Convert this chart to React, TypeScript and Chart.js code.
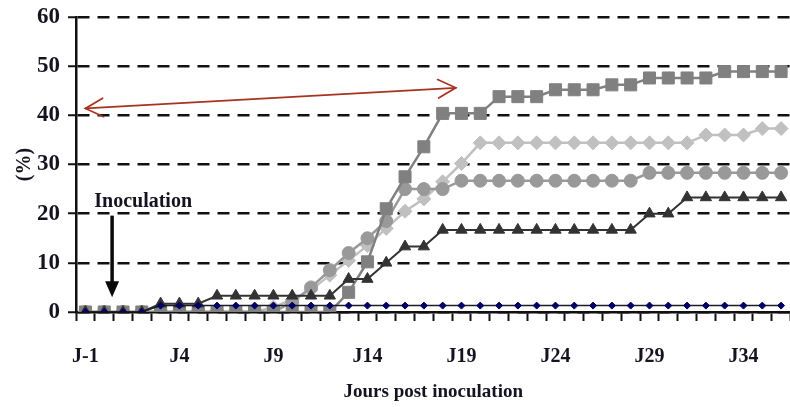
import React, { useEffect, useRef } from 'react';
import { Chart, registerables } from 'chart.js';

Chart.register(...registerables);

const categories = [
  'J-1', 'J0', 'J1', 'J2', 'J3', 'J4', 'J5', 'J6', 'J7', 'J8',
  'J9', 'J10', 'J11', 'J12', 'J13', 'J14', 'J15', 'J16', 'J17', 'J18',
  'J19', 'J20', 'J21', 'J22', 'J23', 'J24', 'J25', 'J26', 'J27', 'J28',
  'J29', 'J30', 'J31', 'J32', 'J33', 'J34', 'J35', 'J36',
];
const tickLabels = ['J-1', 'J4', 'J9', 'J14', 'J19', 'J24', 'J29', 'J34'];
const yTicks = [0, 10, 20, 30, 40, 50, 60];

const seriesNavy = [
  0, 0, 0, 0, 1.3, 1.3, 1.3, 1.3, 1.3, 1.3,
  1.3, 1.3, 1.3, 1.3, 1.3, 1.3, 1.3, 1.3, 1.3, 1.3,
  1.3, 1.3, 1.3, 1.3, 1.3, 1.3, 1.3, 1.3, 1.3, 1.3,
  1.3, 1.3, 1.3, 1.3, 1.3, 1.3, 1.3, 1.3,
];
const seriesTriangles = [
  0, 0, 0, 0, 1.7, 1.7, 1.7, 3.3, 3.3, 3.3,
  3.3, 3.3, 3.3, 3.3, 6.7, 6.7, 10, 13.3, 13.3, 16.7,
  16.7, 16.7, 16.7, 16.7, 16.7, 16.7, 16.7, 16.7, 16.7, 16.7,
  20, 20, 23.3, 23.3, 23.3, 23.3, 23.3, 23.3,
];
const seriesSquares = [
  0, 0, 0, 0, 0, 0, 0, 0, 0, 0,
  0, 0, 0, 0, 4, 10.2, 21, 27.5, 33.6, 40.4,
  40.4, 40.4, 43.8, 43.8, 43.8, 45.2, 45.2, 45.2, 46.2, 46.2,
  47.6, 47.6, 47.6, 47.6, 48.9, 48.9, 48.9, 48.9,
];
const seriesCircles = [
  0, 0, 0, 0, 0, 0, 0, 0, 0, 0,
  0, 2, 5, 8.5, 12, 15, 18.5, 25, 25, 25,
  26.7, 26.7, 26.7, 26.7, 26.7, 26.7, 26.7, 26.7, 26.7, 26.7,
  28.3, 28.3, 28.3, 28.3, 28.3, 28.3, 28.3, 28.3,
];
const seriesDiamonds = [
  0, 0, 0, 0, 0, 0, 0, 0, 0, 0,
  1, 2.5, 4.5, 7.5, 10.5, 13.5, 17, 20.5, 23, 26.5,
  30.2, 34.4, 34.4, 34.4, 34.4, 34.4, 34.4, 34.4, 34.4, 34.4,
  34.4, 34.4, 34.4, 36, 36, 36, 37.3, 37.3,
];

const xTitle = 'Jours post inoculation';
const yTitle = '(%)';
const inoculationText = 'Inoculation';
// annotation anchors in data units [category index, value]
const redArrowFrom = [0, 41.4];
const redArrowTo = [19.7, 45.6];
const inocArrowX = 1.42;
const inocArrowTop = 19.6;
const inocArrowTip = 3;
const inocTextAt = [3.07, 22.4];

const FONT = 'Liberation Serif';
const INK = '#141420';

const annotationPlugin = {
  id: 'annotations',
  afterDraw(chart: any) {
    const { ctx } = chart;
    const xs = chart.scales.x;
    const ys = chart.scales.y;
    const px = (i: number) => xs.getPixelForValue(i);
    const py = (v: number) => ys.getPixelForValue(v);
    ctx.save();
    // red double arrow
    const ax1 = px(redArrowFrom[0]);
    const ay1 = py(redArrowFrom[1]);
    const ax2 = px(redArrowTo[0]);
    const ay2 = py(redArrowTo[1]);
    ctx.strokeStyle = '#a8321f';
    ctx.lineWidth = 1.7;
    ctx.lineCap = 'round';
    ctx.beginPath();
    ctx.moveTo(ax1, ay1);
    ctx.lineTo(ax2, ay2);
    ctx.stroke();
    const head = (tx: number, ty: number, fx: number, fy: number) => {
      const ang = Math.atan2(ty - fy, tx - fx);
      const L = 20;
      const a = 0.48;
      ctx.beginPath();
      ctx.moveTo(tx - L * Math.cos(ang - a), ty - L * Math.sin(ang - a));
      ctx.lineTo(tx, ty);
      ctx.lineTo(tx - L * Math.cos(ang + a), ty - L * Math.sin(ang + a));
      ctx.stroke();
    };
    head(ax1, ay1, ax2, ay2);
    head(ax2, ay2, ax1, ay1);
    // inoculation arrow
    const ix = px(inocArrowX);
    const iy1 = py(inocArrowTop);
    const iy2 = py(inocArrowTip);
    ctx.strokeStyle = '#0a0a0a';
    ctx.fillStyle = '#0a0a0a';
    ctx.lineWidth = 3.5;
    ctx.lineCap = 'butt';
    ctx.beginPath();
    ctx.moveTo(ix, iy1);
    ctx.lineTo(ix, iy2 - 12);
    ctx.stroke();
    ctx.beginPath();
    ctx.moveTo(ix - 7, iy2 - 16);
    ctx.lineTo(ix + 7, iy2 - 16);
    ctx.lineTo(ix, iy2);
    ctx.closePath();
    ctx.fill();
    ctx.fillStyle = INK;
    ctx.font = `bold 20px "${FONT}"`;
    ctx.textAlign = 'center';
    ctx.textBaseline = 'middle';
    ctx.fillText(inoculationText, px(inocTextAt[0]), py(inocTextAt[1]));
    ctx.restore();
  },
};

export default function App() {
  const ref = useRef<HTMLCanvasElement | null>(null);

  useEffect(() => {
    if (!ref.current) return;
    const chart = new Chart(ref.current, {
      type: 'line',
      data: {
        labels: categories,
        datasets: [
          {
            data: seriesNavy,
            borderColor: '#1c1c24',
            borderWidth: 1.5,
            pointStyle: 'rectRot',
            pointRadius: 3.5,
            pointBackgroundColor: '#000066',
            pointBorderColor: '#000066',
            pointBorderWidth: 1,
            tension: 0,
          },
          {
            data: seriesTriangles,
            borderColor: '#333333',
            borderWidth: 2,
            pointStyle: 'triangle',
            pointRadius: 6.5,
            pointBackgroundColor: '#333333',
            pointBorderColor: '#333333',
            pointBorderWidth: 1,
            tension: 0,
          },
          {
            data: seriesSquares,
            borderColor: '#808080',
            borderWidth: 2.5,
            pointStyle: 'rect',
            pointRadius: 8.5,
            pointBackgroundColor: '#808080',
            pointBorderColor: '#808080',
            pointBorderWidth: 1,
            tension: 0,
          },
          {
            data: seriesCircles,
            borderColor: '#999999',
            borderWidth: 2.5,
            pointStyle: 'circle',
            pointRadius: 6.5,
            pointBackgroundColor: '#999999',
            pointBorderColor: '#999999',
            pointBorderWidth: 1,
            tension: 0,
          },
          {
            data: seriesDiamonds,
            borderColor: '#c0c0c0',
            borderWidth: 2.5,
            pointStyle: 'rectRot',
            pointRadius: 7,
            pointBackgroundColor: '#c0c0c0',
            pointBorderColor: '#c0c0c0',
            pointBorderWidth: 1,
            tension: 0,
          },
        ],
      },
      options: {
        animation: false,
        responsive: false,
        maintainAspectRatio: false,
        layout: { padding: { top: 17, right: 0, bottom: 0, left: 0 } },
        plugins: {
          legend: { display: false },
          tooltip: { enabled: false },
        },
        scales: {
          x: {
            type: 'category',
            offset: true,
            grid: {
              offset: true,
              drawOnChartArea: false,
              drawTicks: true,
              tickLength: 9,
              tickColor: '#111',
              tickWidth: 2,
            },
            border: { display: true, color: '#111', width: 2.5 },
            ticks: {
              autoSkip: false,
              maxRotation: 0,
              minRotation: 0,
              padding: 24,
              color: INK,
              font: { family: FONT, weight: 'bold', size: 20 },
              callback: (_v: any, idx: number) =>
                tickLabels.includes(categories[idx]) ? categories[idx] : '',
            },
            title: {
              display: true,
              text: xTitle,
              color: INK,
              font: { family: FONT, weight: 'bold', size: 19 },
              padding: { top: 0, bottom: 4 },
            },
            afterFit: (s: any) => {
              s.height = 95;
              s.paddingLeft = 0;
              s.paddingRight = 0;
            },
          },
          y: {
            min: 0,
            max: 60,
            afterBuildTicks: (s: any) => {
              s.ticks = yTicks.map((v) => ({ value: v }));
            },
            grid: {
              color: '#111',
              lineWidth: 2.5,
              drawTicks: true,
              tickLength: 8,
              tickColor: '#111',
              tickWidth: 2,
            },
            border: { display: true, color: '#111', width: 2.5, dash: [12, 8] },
            ticks: {
              padding: 8,
              color: INK,
              font: { family: FONT, weight: 'bold', size: 23 },
            },
            title: {
              display: true,
              text: yTitle,
              color: INK,
              font: { family: FONT, weight: 'bold', size: 20 },
              padding: { top: 13, bottom: 0 },
            },
            afterFit: (s: any) => {
              s.width = 76;
              s.paddingTop = 0;
              s.paddingBottom = 0;
            },
          },
        },
      },
      plugins: [annotationPlugin],
    } as any);
    return () => chart.destroy();
  }, []);

  return (
    <div
      style={{
        position: 'absolute',
        left: 0,
        top: 0,
        width: 790,
        height: 407,
        overflow: 'hidden',
        background: '#fff',
      }}
    >
      <canvas ref={ref} width={800} height={407} style={{ display: 'block' }} />
    </div>
  );
}
